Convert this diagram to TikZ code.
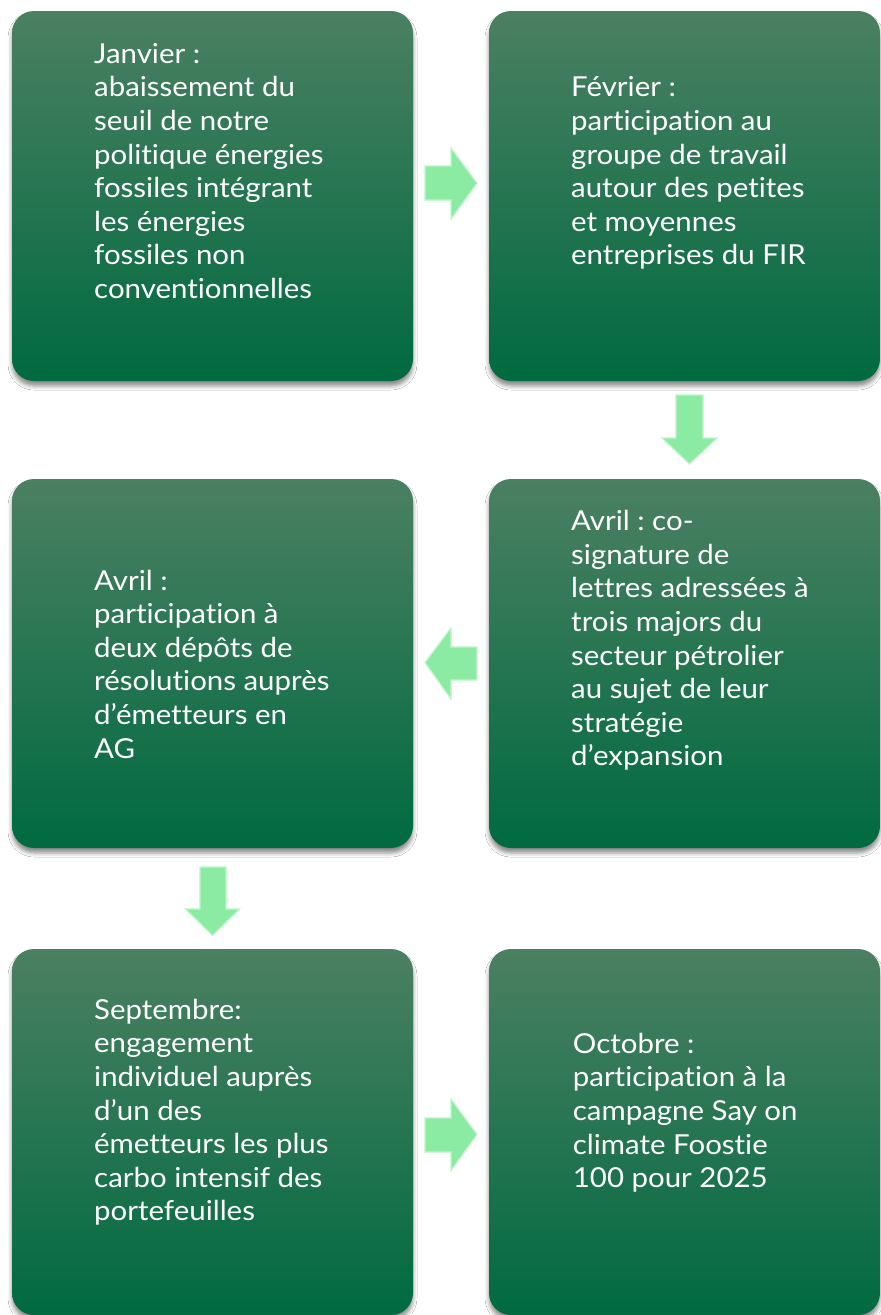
\documentclass[tikz,border=0pt]{standalone}
\usepackage{fontspec}
\setmainfont{Lato}[Ligatures={NoCommon}, FakeStretch=1.07]
\usetikzlibrary{shadows.blur}
\frenchspacing
\definecolor{boxtop}{RGB}{75,128,98}
\definecolor{boxmid}{RGB}{8,113,72}
\definecolor{boxbot}{RGB}{0,106,64}
\definecolor{arrfill}{RGB}{139,235,163}
\definecolor{arrline}{RGB}{190,245,205}
\tikzset{
  box/.style={rectangle, rounded corners=22pt, inner sep=0pt,
    top color=boxtop, middle color=boxmid, bottom color=boxbot,
    blur shadow={shadow xshift=0pt, shadow yshift=-5pt, shadow blur radius=4pt, shadow opacity=45}},
  txt/.style={anchor=base west, inner sep=0pt, text=white, font=\fontsize{27.5}{33.6}\selectfont},
  blockarrow/.style={fill=arrfill, draw=arrline, line width=1.2pt, line join=miter}
}
\newcommand{\lines}[1]{\parbox[t]{330pt}{\raggedright\frenchspacing #1}}
\begin{document}
\begin{tikzpicture}[x=1pt,y=-1pt]
\useasboundingbox[fill=white] (0,0) rectangle (881,1315);
% boxes
\node[box, minimum width=401pt, minimum height=370pt] (b1) at (212.5,196) {};
\node[box, minimum width=391pt, minimum height=370pt] (b2) at (684.5,196) {};
\node[box, minimum width=391pt, minimum height=369pt] (b3) at (684.5,663.5) {};
\node[box, minimum width=401pt, minimum height=369pt] (b4) at (212.5,663.5) {};
\node[box, minimum width=401pt, minimum height=366pt] (b5) at (212.5,1132) {};
\node[box, minimum width=391pt, minimum height=366pt] (b6) at (684.5,1132) {};
% texts
\node[txt] (t1) at (94,63.3) {\lines{Janvier :\\abaissement du\\seuil de notre\\politique énergies\\fossiles intégrant\\les énergies\\fossiles non\\conventionnelles}};
\node[txt] (t2) at (571,96.9) {\lines{Février :\\participation au\\groupe de travail\\autour des petites\\et moyennes\\entreprises du FIR}};
\node[txt] (t3) at (571,530.7) {\lines{Avril : co-\\signature de\\lettres adressées à\\trois majors du\\secteur pétrolier\\au sujet de leur\\stratégie\\d’expansion}};
\node[txt] (t4) at (94,590) {\lines{Avril :\\participation à\\deux dépôts de\\résolutions auprès\\d’émetteurs en\\AG}};
\node[txt] (t5) at (94,1019.3) {\lines{Septembre:\\engagement\\individuel auprès\\d’un des\\émetteurs les plus\\carbo intensif des\\portefeuilles}};
\node[txt] (t6) at (572.7,1053.3) {\lines{Octobre :\\participation à la\\campagne Say on\\climate Foostie\\100 pour 2025}};
% block arrows
\draw[blockarrow] (425,166) -- (451,166) -- (451,148) -- (477,183.3) -- (451,219) -- (451,200) -- (425,200) -- cycle;
\draw[blockarrow] (676,395) -- (703,395) -- (703,438) -- (717,438) -- (689.5,464) -- (662,438) -- (676,438) -- cycle;
\draw[blockarrow] (477,647) -- (451,647) -- (451,628) -- (425,662.5) -- (451,699) -- (451,680) -- (477,680) -- cycle;
\draw[blockarrow] (200,867) -- (226,867) -- (226,909) -- (239.5,909) -- (212.5,935.5) -- (185.5,909) -- (200,909) -- cycle;
\draw[blockarrow] (425,1118) -- (451,1118) -- (451,1099) -- (477,1134.5) -- (451,1170.5) -- (451,1152) -- (425,1152) -- cycle;
\end{tikzpicture}
\end{document}
